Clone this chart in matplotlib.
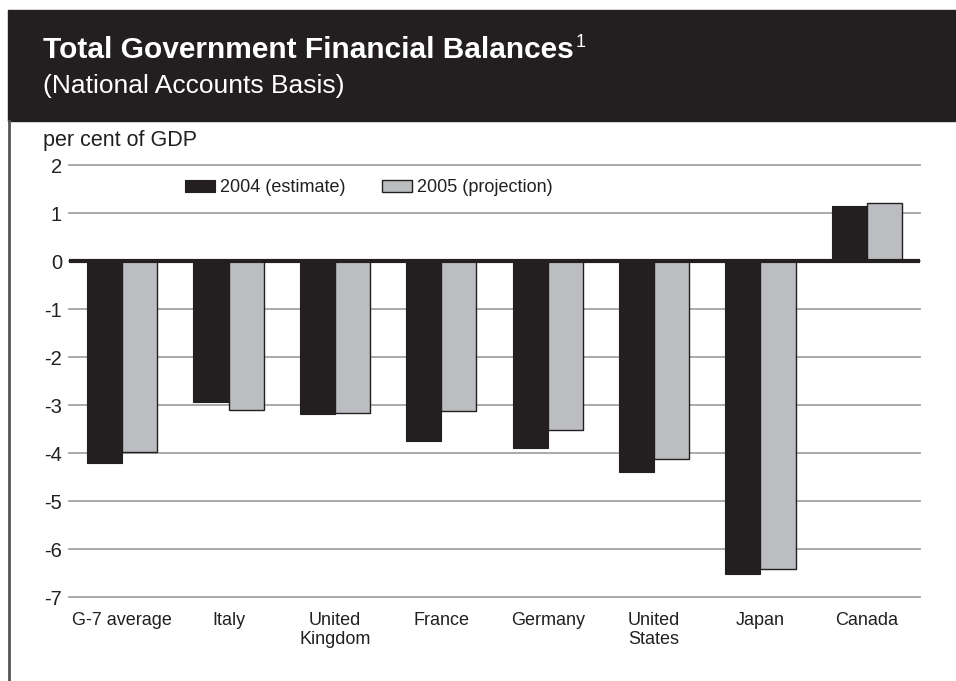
import matplotlib
matplotlib.use("Agg")
import matplotlib.pyplot as plt
import numpy as np
from matplotlib.patches import Rectangle
from matplotlib.lines import Line2D

plt.rcParams['font.family'] = ['Liberation Sans', 'DejaVu Sans']

# data (per cent of GDP)
countries = ["G-7 average", "Italy", "United\nKingdom", "France", "Germany",
             "United\nStates", "Japan", "Canada"]
est_2004 = [-4.20, -2.94, -3.18, -3.74, -3.90, -4.39, -6.52, 1.15]
proj_2005 = [-3.98, -3.11, -3.17, -3.12, -3.53, -4.12, -6.42, 1.20]
y_ticks = [2, 1, 0, -1, -2, -3, -4, -5, -6, -7]

dark = '#231f20'
light = '#bcbdc0'
grid_col = '#a3a3a3'

fig = plt.figure(figsize=(9.56, 6.81), dpi=100)

# black header band
fig.patches.append(Rectangle((8 / 956, 1 - 121 / 681), 1 - 8 / 956, 111 / 681,
                             transform=fig.transFigure, color=dark, zorder=0))
# left frame line of the panel
fig.lines.append(Line2D([8.5 / 956, 8.5 / 956], [0, 1 - 121 / 681],
                        transform=fig.transFigure, color='#555555', lw=2))

title = fig.text(43 / 956, 1 - 58 / 681, "Total Government Financial Balances",
                 color='white', fontsize=21.5, fontweight='bold', va='baseline')
fig.text(43 / 956, 1 - 93 / 681, "(National Accounts Basis)",
         color='white', fontsize=19, va='baseline')
fig.text(43 / 956, 1 - 146 / 681, "per cent of GDP", color=dark,
         fontsize=15.5, va='baseline')

ax = fig.add_axes([69 / 956, 1 - 597 / 681, 851 / 956, 432 / 681])
x = np.arange(len(countries))
w = 0.33
ax.bar(x - w / 2, est_2004, w, color=dark, edgecolor=dark, lw=0.8,
       label="2004 (estimate)", zorder=3)
ax.bar(x + w / 2, proj_2005, w, color=light, edgecolor=dark, lw=1.0,
       label="2005 (projection)", zorder=3)
ax.axhline(0, color=dark, lw=3, zorder=4)

ax.set_xlim(-0.5, 7.5)
ax.set_ylim(-7, 2)
ax.set_yticks(y_ticks)
ax.set_yticklabels([str(t) for t in y_ticks])
ax.set_xticks(x)
ax.set_xticklabels(countries, linespacing=1.1)
ax.tick_params(axis='y', length=0, pad=5, labelsize=14.5, labelcolor=dark)
ax.tick_params(axis='x', length=0, pad=11, labelsize=13, labelcolor=dark)
ax.yaxis.grid(True, color=grid_col, lw=1.3)
ax.set_axisbelow(True)
for gl in ax.get_ygridlines():
    gl.set_clip_on(False)
for s in ax.spines.values():
    s.set_visible(False)

ax.legend(loc='center left', bbox_to_anchor=(0.136, 0.947), ncol=2,
          frameon=False, fontsize=13, handlelength=1.67, handleheight=0.6,
          handletextpad=0.28, columnspacing=2.0, borderpad=0, borderaxespad=0,
          labelcolor=dark)

# superscript footnote marker after the title
fig.canvas.draw()
bb = title.get_window_extent()
fig.text((bb.x1 + 2) / 956, 1 - 47 / 681, "1", color='white', fontsize=13,
         va='baseline')

fig.savefig("out.png", dpi=100)
